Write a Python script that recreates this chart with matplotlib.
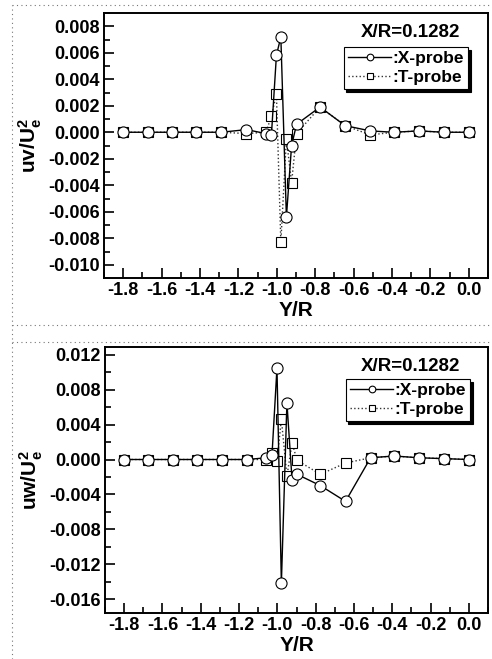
import matplotlib
matplotlib.use('Agg')
import matplotlib.pyplot as plt
from matplotlib.ticker import MultipleLocator, FormatStrFormatter
from matplotlib.lines import Line2D

plt.rcParams['font.family'] = ['Liberation Sans', 'DejaVu Sans']
plt.rcParams['font.weight'] = 'bold'
plt.rcParams['mathtext.fontset'] = 'custom'
plt.rcParams['mathtext.bf'] = 'Liberation Sans:bold'
plt.rcParams['mathtext.rm'] = 'Liberation Sans:bold'

# probe positions Y/R
y_r = [-1.8, -1.673, -1.546, -1.42, -1.289, -1.158, -1.057, -1.028, -1.002, -0.979,
       -0.95, -0.923, -0.897, -0.775, -0.644, -0.513, -0.391, -0.26, -0.129, 0.0]

# uv / Ue^2
uv_x = [0.0, 0.0, 0.0, 0.0, 0.0, 0.0002, -0.0001, -0.0002, 0.0058, 0.0072,
        -0.0064, -0.001, 0.0006, 0.0019, 0.0005, 0.0001, 0.0, 0.0001, 0.0, 0.0]
uv_t = [0.0, 0.0, 0.0, 0.0, 0.0, -0.0001, 0.0, 0.0012, 0.0029, -0.0083,
        -0.0005, -0.0038, -0.0001, 0.0019, 0.0005, -0.0002, 0.0, 0.0001, 0.0, 0.0]

# uw / Ue^2
uw_x = [0.0, 0.0, 0.0, 0.0, 0.0, 0.0, 0.0002, 0.0005, 0.0105, -0.0142,
        0.0065, -0.0024, -0.0017, -0.003, -0.0048, 0.0002, 0.0004, 0.0002, 0.0001, 0.0]
uw_t = [0.0, 0.0, 0.0, 0.0, 0.0, 0.0, 0.0, 0.0007, -0.0002, 0.0046,
        -0.0019, 0.0019, -0.0001, -0.0017, -0.0004, 0.0002, 0.0004, 0.0002, 0.0001, 0.0]

x_ticks = [-1.8, -1.6, -1.4, -1.2, -1.0, -0.8, -0.6, -0.4, -0.2, 0.0]
case_label = 'X/R=0.1282'

fig = plt.figure(figsize=(4.92, 6.59), dpi=100)

# dotted page borders from the scanned figure
for yy in [1 - 5 / 659, 1 - 325 / 659, 1 - 342 / 659]:
    fig.add_artist(Line2D([12 / 492, 1.0], [yy, yy], transform=fig.transFigure,
                          color='#777777', lw=0.8, ls=(0, (1, 3))))
fig.add_artist(Line2D([12 / 492, 12 / 492], [0.0, 1 - 5 / 659], transform=fig.transFigure,
                      color='#777777', lw=0.8, ls=(0, (1, 3))))


def panel(rect, ydat_x, ydat_t, ylim, ymaj, ymin, ylabel, leg_anchor):
    ax = fig.add_axes(rect)
    ax.plot(y_r, ydat_t, ls=':', color='#333333', lw=1.0, marker='s', ms=6.5,
            mfc='white', mec='black', mew=0.8, label=':T-probe')
    ax.plot(y_r, ydat_x, ls='-', color='black', lw=1.0, marker='o', ms=8,
            mfc='white', mec='black', mew=0.8, label=':X-probe')
    ax.set_xlim(-1.9, 0.1)
    ax.set_ylim(*ylim)
    ax.set_xticks(x_ticks)
    ax.xaxis.set_minor_locator(MultipleLocator(0.1))
    ax.xaxis.set_major_formatter(FormatStrFormatter('%.1f'))
    ax.yaxis.set_major_locator(MultipleLocator(ymaj))
    ax.yaxis.set_minor_locator(MultipleLocator(ymin))
    ax.yaxis.set_major_formatter(FormatStrFormatter('%.3f'))
    ax.tick_params(which='both', direction='in', top=False, right=False,
                   labelsize=13, width=1.2)
    ax.tick_params(which='major', length=7, pad=3)
    ax.tick_params(which='minor', length=4)
    for sp in ax.spines.values():
        sp.set_linewidth(1.4)
    for lab in ax.get_xticklabels() + ax.get_yticklabels():
        lab.set_fontweight('bold')
    ax.set_xlabel('Y/R', fontsize=15, fontweight='bold', labelpad=1)
    ax.set_ylabel(ylabel, fontsize=15, labelpad=3)
    ax.text(0.797, 0.925, case_label, transform=ax.transAxes, ha='center',
            va='center', fontsize=13.5, fontweight='bold')
    h, l = ax.get_legend_handles_labels()
    leg = ax.legend(h[::-1], l[::-1], loc='upper right', bbox_to_anchor=leg_anchor,
                    borderaxespad=0, fontsize=12.5, labelspacing=0.2, borderpad=0.25,
                    handlelength=2.5, handletextpad=0.05, markerscale=0.6,
                    fancybox=False, framealpha=1, edgecolor='black',
                    shadow={'color': 'black', 'alpha': 1})
    leg.get_frame().set_linewidth(0.8)
    return ax


panel([104 / 492, 1 - 278 / 659, 384 / 492, 265 / 659], uv_x, uv_t,
      (-0.011, 0.009), 0.002, 0.001, r'$\mathbf{uv/U_e^2}$', (0.948, 0.872))
panel([105 / 492, 1 - 613 / 659, 383 / 492, 266 / 659], uw_x, uw_t,
      (-0.0176, 0.0129), 0.004, 0.002, r'$\mathbf{uw/U_e^2}$', (0.953, 0.88))

fig.savefig('out.png', dpi=100)
